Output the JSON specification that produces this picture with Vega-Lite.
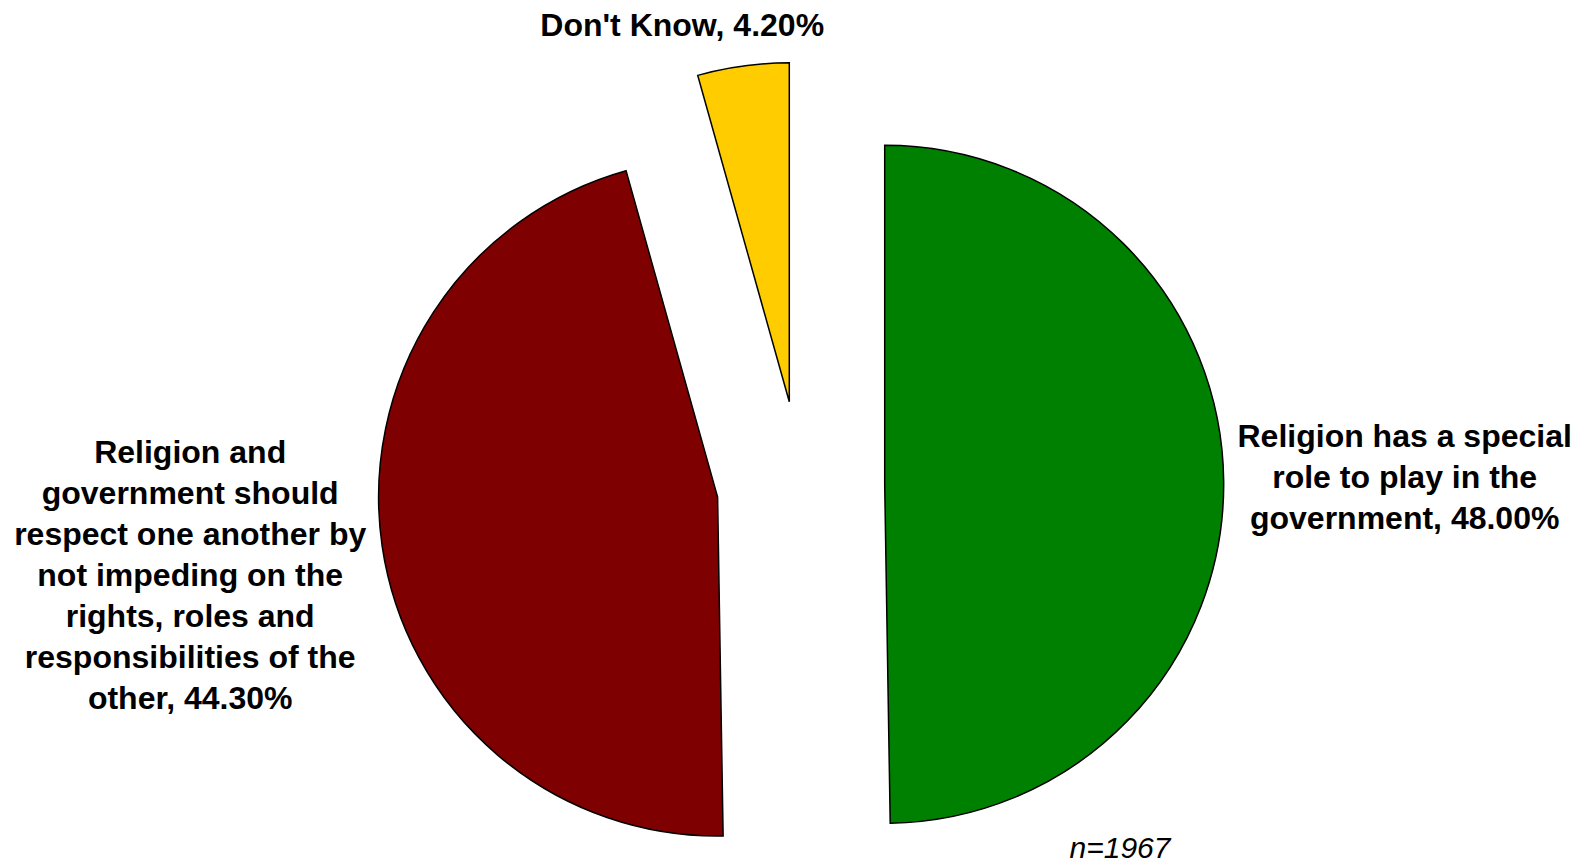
{
  "$schema": "https://vega.github.io/schema/vega-lite/v6.json",
  "width": 1581,
  "height": 866,
  "autosize": {"type": "none"},
  "padding": 0,
  "background": "white",
  "config": {"view": {"stroke": null}},
  "datasets": {
    "responses": [
      {"response": "Religion has a special role to play in the government", "percent": 48.0, "rank": 1, "label": "Religion has a special\nrole to play in the\ngovernment, 48.00%"},
      {"response": "Religion and government should respect one another by not impeding on the rights, roles and responsibilities of the other", "percent": 44.3, "rank": 2, "label": "Religion and\ngovernment should\nrespect one another by\nnot impeding on the\nrights, roles and\nresponsibilities of the\nother, 44.30%"},
      {"response": "Don't Know", "percent": 4.2, "rank": 3, "label": "Don't Know, 4.20%"}
    ],
    "note": [{"text": "n=1967"}]
  },
  "layer": [
    {
      "data": {"name": "responses"},
      "transform": [
        {"stack": "percent", "groupby": [], "sort": [{"field": "rank"}], "as": ["start", "end"]},
        {"filter": "datum.rank === 1"}
      ],
      "mark": {"type": "arc", "outerRadius": 339, "xOffset": 94.2, "yOffset": 51.3, "stroke": "black", "strokeWidth": 1.5},
      "encoding": {
        "theta": {"field": "start", "type": "quantitative", "scale": {"nice": false, "zero": true}},
        "theta2": {"field": "end"},
        "color": {"field": "rank", "type": "nominal", "scale": {"domain": [1, 2, 3], "range": ["#008000", "#7F0000", "#FFCC00"]}, "legend": null}
      }
    },
    {
      "data": {"name": "responses"},
      "transform": [
        {"stack": "percent", "groupby": [], "sort": [{"field": "rank"}], "as": ["start", "end"]},
        {"filter": "datum.rank === 2"}
      ],
      "mark": {"type": "arc", "outerRadius": 339, "xOffset": -72.9, "yOffset": 64.1, "stroke": "black", "strokeWidth": 1.5},
      "encoding": {
        "theta": {"field": "start", "type": "quantitative", "scale": {"nice": false, "zero": true}},
        "theta2": {"field": "end"},
        "color": {"field": "rank", "type": "nominal", "legend": null}
      }
    },
    {
      "data": {"name": "responses"},
      "transform": [
        {"stack": "percent", "groupby": [], "sort": [{"field": "rank"}], "as": ["start", "end"]},
        {"filter": "datum.rank === 3"}
      ],
      "mark": {"type": "arc", "outerRadius": 339, "xOffset": -1.2, "yOffset": -31.2, "stroke": "black", "strokeWidth": 1.5},
      "encoding": {
        "theta": {"field": "start", "type": "quantitative", "scale": {"nice": false, "zero": true}},
        "theta2": {"field": "end"},
        "color": {"field": "rank", "type": "nominal", "legend": null}
      }
    },
    {
      "data": {"name": "responses"},
      "mark": {"type": "text", "radius": 520, "xOffset": 94.2, "yOffset": 51.3, "dy": -33.3, "font": "Liberation Sans", "fontWeight": "bold", "fontSize": 32, "lineHeight": 41, "lineBreak": "\n", "align": "center", "baseline": "alphabetic", "color": "black"},
      "encoding": {
        "theta": {"field": "percent", "type": "quantitative", "stack": true, "scale": {"nice": false, "zero": true}},
        "order": {"field": "rank"},
        "text": {"condition": {"test": "datum.rank === 1", "field": "label"}, "value": ""}
      }
    },
    {
      "data": {"name": "responses"},
      "mark": {"type": "text", "radius": 533, "xOffset": -72.9, "yOffset": 64.1, "dy": -110.7, "font": "Liberation Sans", "fontWeight": "bold", "fontSize": 32, "lineHeight": 41, "lineBreak": "\n", "align": "center", "baseline": "alphabetic", "color": "black"},
      "encoding": {
        "theta": {"field": "percent", "type": "quantitative", "stack": true, "scale": {"nice": false, "zero": true}},
        "order": {"field": "rank"},
        "text": {"condition": {"test": "datum.rank === 2", "field": "label"}, "value": ""}
      }
    },
    {
      "data": {"name": "responses"},
      "mark": {"type": "text", "radius": 369, "xOffset": -1.2, "yOffset": -31.2, "dx": -56.8, "dy": -0.2, "font": "Liberation Sans", "fontWeight": "bold", "fontSize": 32, "lineHeight": 41, "lineBreak": "\n", "align": "center", "baseline": "alphabetic", "color": "black"},
      "encoding": {
        "theta": {"field": "percent", "type": "quantitative", "stack": true, "scale": {"nice": false, "zero": true}},
        "order": {"field": "rank"},
        "text": {"condition": {"test": "datum.rank === 3", "field": "label"}, "value": ""}
      }
    },
    {
      "data": {"name": "note"},
      "mark": {"type": "text", "x": "width", "y": "height", "dx": -461, "dy": -8, "font": "Liberation Sans", "fontStyle": "italic", "fontSize": 30, "align": "center", "baseline": "alphabetic", "color": "black"},
      "encoding": {
        "text": {"field": "text", "type": "nominal"}
      }
    }
  ]
}
